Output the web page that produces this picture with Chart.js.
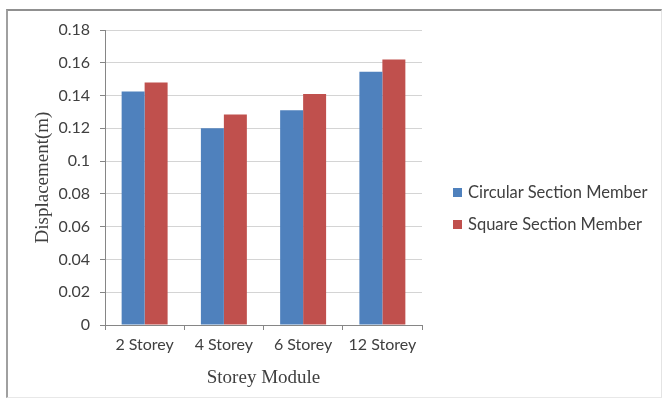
<!DOCTYPE html>
<html><head><meta charset="utf-8">
<script src="https://cdn.jsdelivr.net/npm/chart.js@4/dist/chart.umd.min.js"></script>
<style>
html,body{margin:0;padding:0;background:#fff;}
#wrap{position:relative;width:667px;height:405px;}
#frame{position:absolute;left:6px;top:9px;width:656px;height:389px;border-left:2px solid #a0a0a0;border-top:2px solid #909090;border-right:1px solid #e4e4e4;border-bottom:1px solid #e8e8e8;box-sizing:border-box;pointer-events:none;}
canvas{position:absolute;left:0;top:0;}
#legend{position:absolute;left:453px;top:182px;font-family:Lato,"Open Sans",sans-serif;font-size:16.5px;color:#404040;}
#legend div{height:32px;display:flex;align-items:flex-start;white-space:nowrap;}
#legend span.sw{display:inline-block;width:9px;height:9px;margin:6px 6px 0 0;}
</style></head>
<body><div id="wrap"><canvas id="c" width="667" height="405"></canvas><div id="frame"></div><div id="legend"></div></div>
<script>
const categories = ["2 Storey","4 Storey","6 Storey","12 Storey"];
const seriesNames = ["Circular Section Member","Square Section Member"];
const circular = [0.1425,0.120,0.131,0.1545];
const square = [0.148,0.1285,0.141,0.162];
const colors = ["#4F81BD","#C0504D"];

const leg = document.getElementById('legend');
seriesNames.forEach((n,i)=>{
  const d=document.createElement('div');
  d.innerHTML='<span class="sw" style="background:'+colors[i]+'"></span><span>'+n+'</span>';
  leg.appendChild(d);
});

new Chart(document.getElementById('c'),{
  type:'bar',
  data:{labels:categories,datasets:[
    {label:seriesNames[0],data:circular,backgroundColor:colors[0],categoryPercentage:0.58,barPercentage:1},
    {label:seriesNames[1],data:square,backgroundColor:colors[1],categoryPercentage:0.58,barPercentage:1}
  ]},
  options:{
    responsive:false,animation:false,
    layout:{padding:{left:28,top:30,right:245,bottom:12}},
    plugins:{legend:{display:false},tooltip:{enabled:false}},
    scales:{
      x:{
        grid:{drawOnChartArea:false,tickLength:5,color:'#868686',offset:true},
        border:{color:'#868686'},
        ticks:{color:'#404040',font:{family:'Lato',size:16},padding:5,maxRotation:0},
        title:{display:true,text:'Storey Module',color:'#404040',font:{family:'"Liberation Serif"',size:19},padding:{top:0}},
        afterFit(s){s.height=68;}
      },
      y:{
        min:0,max:0.18,
        ticks:{stepSize:0.02,color:'#404040',font:{family:'Lato',size:16},padding:10,
          callback:v=>String(Math.round(v*100)/100)},
        grid:{color:'#d4d4d4',tickLength:5,tickColor:'#868686'},
        border:{color:'#868686'},
        title:{display:true,text:'Displacement(m)',color:'#404040',font:{family:'"Liberation Serif"',size:19},padding:{bottom:0}},
        afterFit(s){s.width=77;}
      }
    }
  }
});
</script></body></html>
